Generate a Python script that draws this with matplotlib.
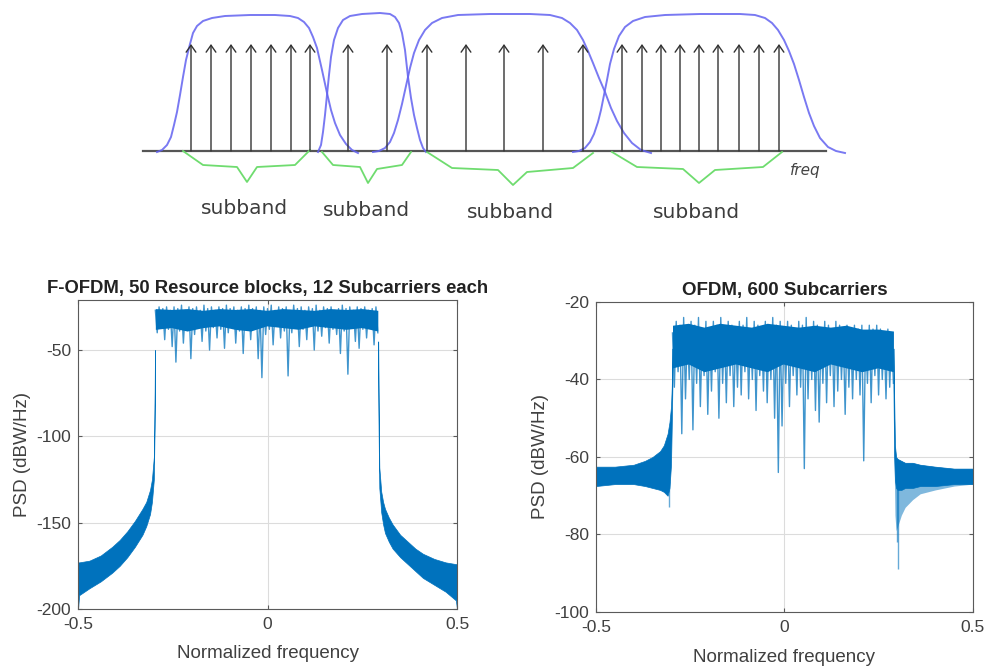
import numpy as np
import matplotlib
matplotlib.use("Agg")
import matplotlib.pyplot as plt

plt.rcParams["font.family"] = ["Liberation Sans", "DejaVu Sans"]

BLUE = "#0072BD"

# ---------------- schematic (drawn in pixel units of the figure) ----------------
baseline_x = [143, 826]
baseline_y = 151
arrow_top_y = 44

subcarrier_x = [
    [191, 211, 231, 251, 271, 291, 310],
    [348, 387],
    [427, 466, 504, 543, 583],
    [622, 642, 661, 680, 699, 718, 739, 759, 779],
]

filter1_x = [157, 162, 167, 171, 174, 177, 180, 183, 186, 190, 193, 197, 203, 212, 225, 250, 275, 290, 298, 304,
             309, 313, 317, 322, 327, 331, 335, 340, 346, 352, 358]
filter1_y = [152, 150, 145, 137, 125, 112, 95, 77, 60, 44, 33, 26, 21, 18, 16, 15, 15, 16, 18, 22,
             28, 37, 48, 70, 93, 110, 123, 135, 144, 150, 153]
filter2_x = [318, 321, 323, 325, 327, 329, 331, 334, 338, 343, 350, 362, 380, 390, 395, 399, 402, 405, 408,
             411, 414, 417, 420, 423, 426]
filter2_y = [152, 145, 132, 115, 95, 75, 57, 40, 28, 20, 16, 14, 13, 14, 17, 23, 33, 50, 77, 98, 115, 128,
             140, 148, 152]
filter3_x = [373, 379, 385, 390, 394, 398, 402, 406, 410, 414, 419, 425, 432, 442, 458, 490, 530, 550, 562,
             570, 577, 583, 588, 593, 599, 605, 611, 617, 624, 632, 641, 651]
filter3_y = [152, 151, 148, 142, 133, 120, 104, 86, 68, 53, 40, 30, 23, 18, 15, 14, 14, 15, 18,
             23, 30, 40, 51, 63, 78, 92, 108, 121, 133, 143, 150, 153]
filter4_x = [573, 579, 585, 590, 594, 598, 601, 604, 607, 610, 614, 619, 625, 633, 645, 665, 700, 740, 755,
             765, 772, 778, 784, 789, 794, 799, 804, 809, 814, 820, 828, 836, 845]
filter4_y = [152, 151, 148, 142, 134, 122, 110, 95, 80, 64, 49, 36, 27, 21, 17, 15, 14, 14, 15,
             18, 23, 30, 40, 51, 64, 80, 97, 113, 126, 138, 147, 151, 153]

bracket_x = [
    [183, 203, 237, 247, 257, 295, 310],
    [322, 333, 360, 368, 377, 402, 411],
    [427, 452, 498, 513, 527, 573, 593],
    [612, 637, 683, 699, 715, 763, 782],
]
bracket_y = [
    [151, 165, 167, 182, 167, 165, 150],
    [152, 165, 167, 183, 169, 165, 152],
    [152, 168, 170, 185, 172, 168, 153],
    [152, 167, 169, 183, 170, 167, 152],
]

subband_x = [245, 366, 511, 697]
subband_y = [208, 210, 212, 212]

# ---------------- F-OFDM spectrum (dBW/Hz) ----------------
fofdm_lskirt_f = [-0.5, -0.497, -0.47, -0.44, -0.41, -0.39, -0.37, -0.35, -0.33, -0.32, -0.31, -0.305, -0.30, -0.299, -0.298, -0.297]
fofdm_lskirt_hi = [-173, -173, -172, -169, -164, -160, -155, -149, -142, -138, -131, -125, -112, -100, -80, -50]
fofdm_lskirt_lo = [-200, -192, -188, -184, -179, -175, -170, -164, -157, -152, -145, -138, -125, -110, -95, -65]

fofdm_rskirt_f = [0.292, 0.293, 0.294, 0.295, 0.30, 0.305, 0.31, 0.32, 0.33, 0.35, 0.37, 0.39, 0.41, 0.44, 0.47, 0.497, 0.5]
fofdm_rskirt_hi = [-45, -75, -100, -118, -132, -138, -142, -147, -151, -157, -161, -165, -168, -171, -173, -174, -174]
fofdm_rskirt_lo = [-60, -95, -115, -130, -144, -151, -156, -161, -165, -170, -174, -178, -182, -186, -190, -195, -200]

fofdm_core_hi = [-26, -26.5, -26, -27, -26, -26.5, -26, -27, -26, -26.5, -27, -26, -26.5, -26, -27]
fofdm_core_lo = [-38, -37, -39, -37, -36, -38, -39, -36, -37, -38, -36, -37, -38, -37, -39]
fofdm_core_f = np.linspace(-0.296, 0.291, len(fofdm_core_hi))

fofdm_trace = [-27, -40, -25, -36, -26, -44, -25, -38, -27, -48,
               -25, -57, -26, -39, -24, -46, -27, -37, -25, -55,
               -26, -41, -25, -36, -27, -45, -24, -39, -26, -50,
               -25, -37, -27, -43, -25, -38, -26, -49, -24, -40,
               -26, -36, -25, -46, -27, -39, -25, -52, -26, -38,
               -24, -44, -26, -37, -25, -55, -27, -66, -25, -41,
               -26, -38, -24, -47, -27, -36, -25, -43, -26, -39,
               -25, -65, -27, -40, -24, -37, -26, -48, -25, -38,
               -27, -44, -25, -36, -26, -50, -24, -39, -27, -42,
               -25, -37, -26, -46, -25, -38, -27, -41, -26, -52,
               -24, -39, -26, -64, -25, -37, -27, -45, -25, -49,
               -26, -38, -25, -43, -27, -36, -26, -47, -25, -40]
fofdm_trace_f = np.linspace(-0.296, 0.291, len(fofdm_trace))

# ---------------- OFDM spectrum (dBW/Hz) ----------------
ofdm_lskirt_f = [-0.5, -0.45, -0.40, -0.37, -0.35, -0.33, -0.32, -0.31, -0.305, -0.301, -0.299, -0.297]
ofdm_lskirt_hi = [-62.5, -62.5, -62, -61, -60, -58.5, -57, -54, -51, -47, -42, -32]
ofdm_lskirt_lo = [-67.5, -67, -67, -67.5, -68, -68.5, -69, -70, -68, -62, -52, -40]

ofdm_rskirt_f = [0.289, 0.291, 0.293, 0.296, 0.30, 0.31, 0.32, 0.34, 0.36, 0.40, 0.45, 0.5]
ofdm_rskirt_hi = [-32, -45, -57, -60, -60.5, -61, -61.5, -61.5, -62, -62.5, -63, -63]
ofdm_rskirt_lo = [-42, -60, -66, -68, -68.5, -68.5, -68, -68, -67.5, -67.5, -67, -67]
ofdm_rskirt_lo2 = [-42, -62, -75, -79, -78, -75, -73, -71, -69.5, -68.5, -67.5, -67]

ofdm_skirt_dip_f = [-0.307, 0.299, 0.302]
ofdm_skirt_dip_db = [-73, -82, -89]

ofdm_core_hi = [-26, -25.5, -26.5, -25.5, -26, -26.5, -25.5, -26, -26.5, -26, -26.5, -26, -27, -27, -27.5]
ofdm_core_lo = [-37, -36, -38, -37, -36, -37, -38, -36, -37, -38, -36, -37, -38, -37, -38]
ofdm_core_f = np.linspace(-0.297, 0.289, len(ofdm_core_hi))

ofdm_trace = [-28, -42, -25, -38, -26, -54, -24, -45, -27, -40,
              -25, -53, -26, -41, -24, -47, -28, -39, -25, -49,
              -27, -43, -25, -38, -26, -50, -24, -41, -27, -46,
              -25, -39, -26, -47, -28, -42, -25, -44, -26, -38,
              -24, -45, -27, -40, -25, -48, -26, -39, -28, -43,
              -25, -46, -27, -40, -24, -50, -26, -64, -25, -52,
              -27, -41, -25, -47, -26, -39, -28, -44, -25, -42,
              -26, -63, -24, -45, -27, -40, -25, -48, -26, -51,
              -28, -41, -25, -46, -26, -39, -27, -47, -25, -43,
              -26, -40, -28, -49, -26, -42, -27, -45, -26, -40,
              -27, -44, -26, -61, -28, -41, -26, -46, -27, -39,
              -26, -44, -27, -40, -28, -45, -27, -42, -28, -41]
ofdm_trace_f = np.linspace(-0.297, 0.289, len(ofdm_trace))


def style_psd(ax, yticks, ylim, label_y):
    ax.set_xlim(-0.5, 0.5)
    ax.set_ylim(*ylim)
    ax.set_xticks([-0.5, 0, 0.5])
    ax.set_xticklabels(["-0.5", "0", "0.5"])
    ax.set_yticks(yticks)
    ax.set_yticklabels([str(t) for t in yticks])
    ax.grid(True, color="#dcdcdc", linewidth=0.8)
    ax.set_axisbelow(True)
    for s in ax.spines.values():
        s.set_color("#5a5a5a")
        s.set_linewidth(0.8)
    ax.tick_params(direction="in", top=True, right=True, length=3, colors="#5a5a5a",
                   labelcolor="#404040", labelsize=12.5)
    ax.tick_params(axis="x", pad=6)
    ax.tick_params(axis="y", pad=5)
    ax.set_xlabel("Normalized frequency", fontsize=13.5, color="#404040")
    ax.set_ylabel("PSD (dBW/Hz)", fontsize=13.5, color="#404040")
    ax.xaxis.set_label_coords(0.5, label_y)
    ax.yaxis.set_label_coords(-0.124, 0.5)


fig = plt.figure(figsize=(9.89, 6.66), dpi=100)

# schematic layer
sk = fig.add_axes([0, 0, 1, 1])
sk.set_xlim(0, 989)
sk.set_ylim(666, 0)
sk.axis("off")

for group in subcarrier_x:
    for x in group:
        sk.annotate("", xy=(x, arrow_top_y), xytext=(x, baseline_y),
                    arrowprops=dict(arrowstyle="->,head_length=0.5,head_width=0.35",
                                    color="#333333", lw=1.0, shrinkA=0, shrinkB=0))
sk.plot(baseline_x, [baseline_y, baseline_y], color="#555555", lw=1.6)

for fx, fy in [(filter1_x, filter1_y), (filter2_x, filter2_y),
               (filter3_x, filter3_y), (filter4_x, filter4_y)]:
    sk.plot(fx, fy, color="#6262f0", lw=1.4, alpha=0.85, solid_joinstyle="round")

for bx, by in zip(bracket_x, bracket_y):
    sk.plot(bx, by, color="#6fdc6f", lw=1.3)

for x, y in zip(subband_x, subband_y):
    sk.text(x, y, "subband", fontsize=14.5, family="DejaVu Sans", color="#3c3c3c",
            ha="center", va="center")
sk.text(805, 171, "freq", fontsize=11, family="DejaVu Sans", style="italic",
        color="#444444", ha="center", va="center")

# F-OFDM PSD
ax1 = fig.add_axes([0.0789, 0.0856, 0.3832, 0.464])
ax1.fill_between(fofdm_lskirt_f, fofdm_lskirt_lo, fofdm_lskirt_hi, color=BLUE, lw=0.5)
ax1.fill_between(fofdm_rskirt_f, fofdm_rskirt_lo, fofdm_rskirt_hi, color=BLUE, lw=0.5)
ax1.fill_between(fofdm_core_f, fofdm_core_lo, fofdm_core_hi, color=BLUE, lw=0)
ax1.plot(fofdm_trace_f, fofdm_trace, color=BLUE, lw=1.0, alpha=0.75)
style_psd(ax1, [-200, -150, -100, -50], (-200, -21), -0.115)
ax1.set_title("F-OFDM, 50 Resource blocks, 12 Subcarriers each", fontsize=13.3,
              fontweight="bold", color="#222222", pad=5)

# OFDM PSD
ax2 = fig.add_axes([0.6026, 0.0811, 0.3812, 0.4655])
ax2.fill_between(ofdm_rskirt_f, ofdm_rskirt_lo2, ofdm_rskirt_hi, color=BLUE, alpha=0.5, lw=0)
ax2.fill_between(ofdm_lskirt_f, ofdm_lskirt_lo, ofdm_lskirt_hi, color=BLUE, lw=0.5)
ax2.fill_between(ofdm_rskirt_f, ofdm_rskirt_lo, ofdm_rskirt_hi, color=BLUE, lw=0.5)
ax2.fill_between(ofdm_core_f, ofdm_core_lo, ofdm_core_hi, color=BLUE, lw=0)
ax2.plot(ofdm_trace_f, ofdm_trace, color=BLUE, lw=1.0, alpha=0.75)
ax2.vlines(ofdm_skirt_dip_f, ofdm_skirt_dip_db, -62, color=BLUE, alpha=0.6, lw=1.0)
style_psd(ax2, [-100, -80, -60, -40, -20], (-100, -20), -0.118)
ax2.set_title("OFDM, 600 Subcarriers", fontsize=13.5, fontweight="bold",
              color="#222222", pad=5)

fig.savefig("out.png", dpi=100)
